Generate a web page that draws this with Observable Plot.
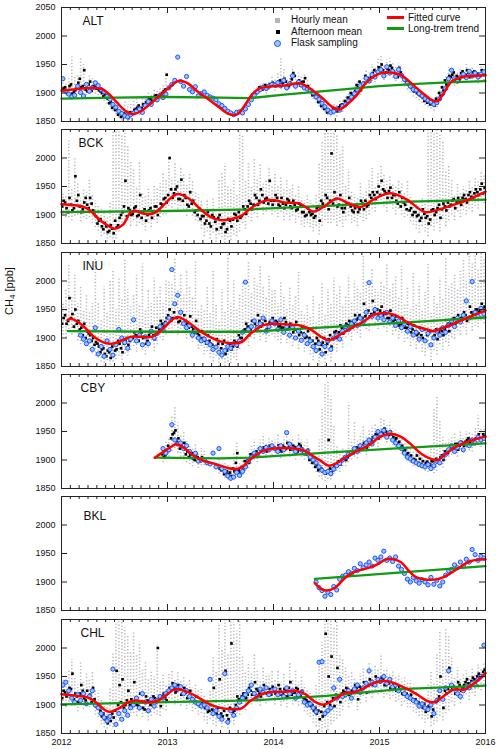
<!DOCTYPE html>
<html><head><meta charset="utf-8">
<script src="https://cdn.jsdelivr.net/npm/d3@7"></script>
<script src="https://cdn.jsdelivr.net/npm/@observablehq/plot@0.6"></script>
<style>
body{margin:0;background:#fff;font-family:"Liberation Sans",Arial,sans-serif;}
#wrap{position:relative;width:500px;height:749px;overflow:hidden;background:#fff}
.panel{position:absolute;left:0}
.panel svg{overflow:visible}
.lg{position:absolute;font-size:10px;line-height:12px;color:#111;white-space:nowrap}
#ylab{position:absolute;font-size:11px;white-space:nowrap;color:#111;transform:translate(-50%,-50%) rotate(-90deg)}
#ylab sub{font-size:8px;vertical-align:-2px}
</style></head>
<body><div id="wrap"></div>
<script>
const _ = null;
const stationNames = ["ALT","BCK","INU","CBY","BKL","CHL"];
const yearTicks = [2012,2013,2014,2015,2016];
const yLabelsFirst = [1850,1900,1950,2000,2050];
const yLabels = [1850,1900,1950,2000];
const yInnerTicks = [1900,1950,2000];
const legendLabels = ["Hourly mean","Afternoon mean","Flask sampling","Fitted curve","Long-trem trend"];

// ---------- ALT ----------
const altFit = [[2012.0,1904],[2012.1,1906],[2012.2,1908],[2012.3,1909],[2012.38,1907],[2012.45,1898],[2012.52,1884],[2012.6,1869],[2012.67,1863],[2012.75,1868],[2012.85,1883],[2012.95,1899],[2013.02,1910],[2013.1,1921],[2013.18,1918],[2013.28,1903],[2013.38,1890],[2013.48,1876],[2013.58,1863],[2013.65,1862],[2013.72,1876],[2013.8,1898],[2013.87,1908],[2013.95,1911],[2014.1,1913],[2014.25,1917],[2014.35,1907],[2014.45,1893],[2014.55,1876],[2014.62,1871],[2014.7,1881],[2014.78,1895],[2014.88,1919],[2015.0,1934],[2015.1,1936],[2015.2,1932],[2015.3,1917],[2015.4,1901],[2015.5,1887],[2015.55,1886],[2015.6,1898],[2015.68,1920],[2015.78,1928],[2015.9,1930],[2016.0,1931]];
const altTrend = [[2012,1890],[2012.5,1892],[2013,1893],[2013.5,1892],[2013.78,1891],[2014.1,1897],[2014.45,1903],[2015.0,1912],[2015.35,1916],[2015.65,1918.5],[2016,1921]];
const altFlask = [
1925,1903,1898,1893,1896,1912,1901,1895,1915,1903,1909,1918,
1913,1906,1902,1894,1889,1880,1875,1868,1864,1860,1858,1862,
1865,1868,1872,1866,1878,1885,1880,1890,1888,1896,1892,1898,
1909,1915,1922,1963,1920,1912,1929,1906,1902,1911,1895,1899,
1902,1896,1893,1891,1888,1881,1878,1873,1868,1865,1862,1866,
1867,1865,1872,1880,1888,1896,1902,1906,1910,1908,1912,1915,
1914,1918,1913,1922,1909,1916,1930,1912,1919,1914,1909,1907,
1905,1900,1893,1889,1882,1876,1870,1866,1868,1872,1870,1877,
1880,1886,1893,1899,1906,1913,1916,1926,1921,1932,1928,1937,
1941,1930,1946,1935,1938,1929,1941,1931,1924,1917,1912,1906,
1905,1899,1895,1890,1887,1884,1880,1883,1890,1899,1908,1925,
1940,1925,1921,1928,1933,1927,1938,1930,1935,1928,1933,1937];
const altAfternoon = [
1908,1902,1912,1899,1905,1918,1910,1940,1903,1920,1912,1908,
1905,1900,1897,1890,1885,1878,1872,1866,1860,1862,1856,1864,
1870,1874,1868,1880,1884,1889,1886,1895,1892,1898,1903,1932,
_,_,_,_,_,_,_,_,_,_,_,_,
_,_,_,_,_,_,_,_,_,_,_,_,
_,_,_,_,1892,1899,1905,1908,1912,1907,1915,1918,
1912,1920,1916,1925,1913,1918,1935,1915,1922,1919,1926,1912,
1906,1898,1892,1886,1880,1874,1869,1866,1870,1868,1878,1876,
1883,1888,1896,1903,1910,1905,1918,1925,1920,1935,1929,1945,
1950,1934,1942,1948,1938,1932,1944,1930,1922,1915,1910,1903,
1900,1896,1892,1889,1885,1882,1878,1885,1895,1904,1915,1930,
1932,1922,1926,1935,1929,1940,1928,1936,1932,1927,1940,1934];
const altAfternoonB = [
1905,1910,1898,1915,1902,1908,1925,1912,1906,1915,1904,1911,
1908,1903,1894,1892,1882,1874,1870,1862,1858,1864,1860,1866,
1866,1872,1878,1874,1880,1886,1890,1888,1896,1894,1900,1906,
_,_,_,_,_,_,_,_,_,_,_,_,
_,_,_,_,_,_,_,_,_,_,_,_,
_,_,_,_,_,1895,1902,1910,1906,1914,1910,1913,
1916,1914,1922,1918,1920,1912,1924,1930,1917,1913,1920,1910,
1903,1896,1895,1884,1877,1872,1866,1868,1873,1872,1875,1880,
1886,1892,1900,1898,1914,1920,1912,1930,1926,1928,1940,1938,
1944,1940,1936,1940,1944,1935,1928,1936,1926,1919,1912,1907,
1904,1898,1895,1886,1883,1880,1884,1890,1900,1910,1922,1926,
1928,1936,1930,1924,1938,1932,1935,1930,1938,1934,1930,1938];
const altHourlyHi = [
1918,1915,1925,1963,1930,1930,1962,1950,1915,1930,1925,1918,
1915,1910,1905,1900,1895,1888,1880,1875,1872,1885,1880,1880,
1885,1890,1880,1892,1895,1900,1896,1905,1905,1910,1915,1935,
_,_,_,_,_,_,_,_,_,_,_,_,
_,_,_,_,_,_,_,_,_,_,_,_,
_,_,_,_,1900,1906,1912,1915,1920,1915,1922,1928,
1925,1935,1960,1945,1925,1930,1945,1928,1935,1930,1935,1925,
1915,1908,1900,1895,1890,1885,1880,1878,1882,1880,1888,1886,
1893,1900,1905,1912,1920,1918,1930,1940,1935,1950,1945,1960,
1965,1950,1958,1960,1952,1945,1952,1942,1935,1925,1920,1912,
1910,1905,1900,1897,1893,1890,1888,1895,1905,1915,1928,1945,
1942,1932,1936,1945,1940,1950,1938,1945,1942,1938,1948,1945];
const altHourlyLo = [
1898,1895,1900,1892,1896,1905,1900,1902,1895,1905,1900,1898,
1895,1890,1885,1880,1875,1868,1862,1856,1851,1853,1850,1855,
1860,1864,1860,1870,1875,1880,1876,1885,1883,1888,1893,1900,
_,_,_,_,_,_,_,_,_,_,_,_,
_,_,_,_,_,_,_,_,_,_,_,_,
_,_,_,_,1885,1890,1896,1900,1903,1898,1905,1908,
1903,1908,1906,1910,1903,1906,1910,1905,1910,1908,1912,1902,
1896,1888,1882,1876,1870,1865,1860,1858,1860,1858,1866,1866,
1873,1878,1886,1893,1900,1895,1906,1913,1910,1920,1918,1928,
1933,1922,1928,1930,1926,1920,1928,1918,1910,1905,1900,1893,
1890,1886,1882,1878,1875,1872,1868,1874,1884,1893,1903,1915,
1920,1912,1915,1922,1918,1925,1918,1924,1920,1916,1926,1922];

// ---------- BCK ----------
const bckFit = [[2012.0,1919],[2012.2,1915],[2012.27,1908],[2012.35,1893],[2012.45,1880],[2012.5,1876],[2012.58,1883],[2012.65,1904],[2012.7,1907],[2012.78,1902],[2012.87,1903],[2012.95,1915],[2013.05,1933],[2013.1,1937],[2013.2,1929],[2013.3,1912],[2013.4,1897],[2013.5,1891],[2013.6,1893],[2013.7,1899],[2013.78,1911],[2013.9,1924],[2014.0,1926],[2014.1,1922],[2014.25,1920],[2014.38,1906],[2014.5,1918],[2014.6,1929],[2014.7,1921],[2014.82,1914],[2014.95,1928],[2015.1,1938],[2015.25,1928],[2015.43,1905],[2015.55,1909],[2015.7,1918],[2015.85,1928],[2016.0,1941]];
const bckTrend = [[2012,1905],[2013,1907],[2013.8,1910],[2014.6,1917],[2015.2,1923],[2016,1927]];
const bckAfternoon = [
1925,1912,1930,1908,1968,1935,1905,1922,1918,1930,1908,1898,
1890,1880,1886,1870,1882,1868,1878,1895,1905,1960,1912,1900,
1912,1898,1935,1905,1890,1908,1895,1915,1900,1920,1928,1922,
2000,1930,1945,1928,1962,1935,1918,1940,1925,1908,1912,1898,
1885,1905,1880,1896,1875,1900,1884,1870,1893,1880,1902,1890,
1895,1915,1902,1925,1910,1935,1918,1945,1922,1930,1960,1918,
1935,1918,1930,1912,1928,1915,1925,1908,1920,1905,1898,1912,
1900,1895,1912,1890,1920,1935,1910,2008,1940,1915,1935,1905,
1918,1930,1908,1912,1905,1925,1910,1915,1935,1940,1928,1950,
1960,1942,1930,1948,1935,1925,1940,1930,1918,1925,1912,1905,
1898,1890,1910,1895,1885,1908,1900,1912,1895,1920,1908,1915,
1925,1912,1930,1918,1935,1922,1940,1928,1945,1935,1955,1948];
const bckAfternoonB = [
1915,1922,1905,1918,1912,1925,1915,1910,1930,1912,1920,1905,
1885,1893,1875,1880,1872,1876,1890,1882,1900,1915,1898,1908,
1902,1915,1900,1895,1910,1900,1912,1905,1915,1910,1918,1930,
1935,1945,1938,1950,1928,1925,1930,1915,1920,1905,1900,1893,
1898,1890,1885,1900,1888,1895,1878,1885,1875,1890,1892,1900,
1905,1898,1910,1915,1920,1918,1930,1925,1935,1928,1920,1925,
1925,1930,1915,1920,1918,1925,1912,1918,1910,1915,1905,1900,
1905,1902,1898,1915,1925,1915,1930,1925,1920,1928,1918,1912,
1912,1920,1915,1905,1918,1910,1920,1925,1918,1930,1935,1940,
1935,1945,1938,1942,1930,1935,1920,1915,1922,1910,1908,1900,
1905,1900,1895,1902,1898,1892,1910,1905,1918,1910,1915,1922,
1918,1928,1922,1925,1930,1928,1935,1932,1938,1940,1945,1938];
const bckHourlyHi = [
1940,1935,2030,1945,2000,1955,1930,1945,1940,1965,1935,1925,
1915,1910,1905,1895,1920,2045,2050,2050,2040,2050,2020,1995,
1980,1950,1995,1940,1935,1945,1930,1950,1945,1955,1975,1960,
2000,1965,1990,1960,1985,1970,1955,1975,1960,1940,1935,1925,
1910,1925,1905,1930,1900,1960,1975,1990,1950,1945,1960,1935,
2045,2040,1960,1990,1950,2000,1965,1990,1955,1960,1985,1950,
1975,1950,1965,1945,1960,1945,1955,1935,1950,1930,1925,1935,
1925,1918,1935,1990,2030,2050,2050,2050,2045,2040,2010,2020,
1950,1980,1940,1935,1930,1955,1935,1945,1960,1985,1950,1975,
1985,1970,1960,1970,1955,1950,1960,1955,1940,1960,1935,1925,
1925,1915,1930,1920,2050,2050,2045,2050,2040,2030,1975,1985,
1960,1935,1955,1940,1950,1945,1960,1950,1965,1958,1975,1970];
const bckHourlyLo = [
1900,1895,1895,1890,1898,1900,1888,1895,1892,1895,1885,1878,
1872,1862,1866,1852,1860,1852,1858,1870,1880,1885,1890,1880,
1890,1880,1885,1882,1872,1885,1878,1890,1885,1895,1900,1900,
1915,1912,1918,1910,1915,1910,1898,1905,1898,1890,1888,1875,
1862,1870,1858,1868,1852,1865,1860,1850,1860,1855,1865,1862,
1870,1885,1875,1895,1888,1902,1895,1910,1900,1905,1915,1900,
1905,1895,1905,1890,1900,1890,1898,1885,1895,1882,1878,1885,
1878,1870,1880,1865,1880,1890,1885,1885,1890,1880,1888,1878,
1890,1898,1885,1888,1880,1895,1888,1892,1900,1910,1905,1918,
1925,1915,1905,1918,1910,1900,1910,1900,1895,1898,1888,1882,
1875,1868,1880,1870,1862,1880,1872,1885,1870,1892,1880,1890,
1900,1890,1905,1895,1908,1900,1910,1905,1915,1910,1925,1920];

// ---------- INU ----------
const inuFit = [[2012.06,1932],[2012.1,1933.5],[2012.2,1922],[2012.3,1903],[2012.4,1892],[2012.47,1890],[2012.55,1894],[2012.65,1902],[2012.75,1902],[2012.85,1902],[2012.95,1915],[2013.05,1933],[2013.1,1937],[2013.2,1927],[2013.3,1913],[2013.4,1902],[2013.5,1894],[2013.6,1891],[2013.7,1893],[2013.78,1907],[2013.9,1922],[2014.0,1925],[2014.1,1924],[2014.25,1922],[2014.35,1915],[2014.45,1902],[2014.52,1896],[2014.62,1905],[2014.72,1916],[2014.85,1929],[2014.95,1941],[2015.05,1944],[2015.15,1940],[2015.25,1929],[2015.35,1920],[2015.45,1915],[2015.5,1912],[2015.6,1918],[2015.7,1925],[2015.8,1933],[2015.9,1941],[2016.0,1948]];
const inuTrend = [[2012.06,1912],[2013,1911],[2013.78,1911],[2014.6,1920],[2015.3,1928],[2016,1936]];
const inuFlask = [
_,_,_,_,_,_,1905,1898,1890,1895,1880,1918,
1872,1885,1868,1895,1880,1870,1888,1915,1900,1892,1882,1898,
1932,1895,1905,1888,1902,1890,1912,1900,1908,1920,1915,1925,
1935,2020,1960,1975,1945,1925,1918,1922,1905,1912,1900,1895,
1898,1892,1888,1880,1884,1875,1870,1878,1885,1882,1890,1888,
1895,1910,1998,1915,1920,1930,1918,1925,1935,1912,1920,1930,
1925,1915,1932,1910,1920,1905,1918,1900,1912,1896,1905,1890,
1895,1885,1878,1890,1872,1885,1895,1880,1900,1905,1898,1912,
1920,1915,1925,1930,1922,1935,1928,1945,1997,1938,1950,1935,
1940,1932,1945,1928,1935,1922,1930,1918,1925,1912,1920,1905,
1910,1898,1915,1895,1908,1888,1900,1912,1905,1918,1910,1922,
1930,1920,1935,1928,1940,1965,1935,1999,1945,1938,1952,1942];
const inuAfternoon = [
1935,1925,1970,1942,1950,1930,1918,1925,1912,1905,1900,1893,
1885,1880,1872,1878,1865,1870,1880,1890,1875,1895,1888,1900,
1910,1895,1915,1900,1890,1905,1920,1898,1910,1930,1920,1935,
1950,1935,1960,1928,1945,1940,1925,1938,1915,1930,1905,1912,
1895,1905,1890,1882,1898,1876,1890,1872,1885,1880,1895,1885,
1900,1912,1925,1905,1930,1925,1940,1920,1935,1915,1928,1935,
1930,1920,1918,1935,1915,1925,1910,1928,1905,1920,1900,1912,
1895,1885,1900,1880,1892,1875,1898,1885,1910,1900,1922,1908,
1925,1930,1918,1940,1935,1925,1960,1945,1938,1965,1950,1940,
1955,1945,1935,1948,1930,1938,1922,1935,1918,1925,1910,1922,
1905,1918,1900,1895,1910,1888,1905,1898,1915,1905,1920,1912,
1930,1925,1940,1935,1945,1930,1955,1940,1950,1945,1960,1955];
const inuAfternoonB = [
1925,1940,1930,1935,1920,1925,1915,1905,1900,1908,1895,1888,
1890,1875,1882,1868,1875,1885,1878,1895,1882,1890,1900,1895,
1900,1905,1895,1910,1902,1895,1910,1905,1918,1915,1925,1928,
1940,1930,1945,1935,1930,1925,1930,1918,1920,1910,1908,1900,
1900,1890,1895,1888,1885,1890,1882,1895,1878,1890,1885,1892,
1905,1900,1915,1920,1915,1930,1920,1930,1925,1930,1920,1928,
1925,1928,1922,1918,1928,1920,1918,1915,1912,1910,1908,1902,
1900,1895,1890,1895,1888,1900,1890,1905,1898,1912,1910,1918,
1918,1922,1928,1925,1932,1940,1935,1938,1948,1942,1945,1950,
1948,1940,1942,1935,1940,1932,1928,1925,1928,1918,1922,1915,
1912,1908,1905,1915,1905,1912,1902,1915,1910,1912,1915,1925,
1925,1935,1928,1930,1938,1940,1935,1945,1942,1950,1948,1952];
const inuHourlyHi = [
1960,1985,2030,1975,2010,1960,1990,1950,1975,1945,1960,2040,
1960,1930,1990,1945,2000,2020,1950,2005,1970,2040,1985,1955,
1975,2010,1960,2030,1950,1985,1960,2005,1975,1990,1960,2000,
2000,1995,2040,1985,2010,1975,2020,1990,1970,2035,1950,1960,
1950,1990,1945,2020,1960,1930,1985,1945,2045,1960,2000,1950,
1975,2000,1990,2035,1980,2005,1995,2025,1990,1970,2010,1985,
1985,1960,2000,1975,1950,1990,1960,1975,2015,1950,1940,1960,
1940,1975,1930,1960,1995,1940,1985,1960,2005,1975,1990,1955,
1975,2010,1965,2000,1990,1980,2045,2000,1990,2020,1985,1980,
2000,1990,2030,1985,1995,2010,1970,2025,1960,1990,1950,2015,
1960,1995,1950,1980,2030,1945,1975,1960,2005,1970,2040,1990,
1995,2010,1985,2020,2040,2000,2050,2030,2045,2020,2050,2040];
const inuHourlyLo = [
1905,1900,1915,1905,1910,1895,1888,1892,1885,1878,1872,1868,
1865,1858,1850,1860,1852,1858,1862,1868,1855,1872,1868,1878,
1885,1875,1890,1878,1870,1882,1895,1876,1888,1900,1895,1905,
1915,1910,1920,1905,1915,1910,1898,1905,1892,1898,1880,1885,
1870,1876,1865,1858,1868,1850,1862,1850,1858,1855,1865,1860,
1880,1890,1898,1885,1900,1898,1908,1895,1905,1892,1902,1905,
1900,1895,1890,1905,1890,1898,1885,1900,1880,1892,1875,1885,
1870,1860,1872,1852,1865,1850,1868,1858,1882,1875,1895,1882,
1900,1905,1895,1912,1908,1900,1925,1915,1912,1930,1920,1915,
1925,1918,1910,1920,1905,1912,1898,1908,1892,1898,1885,1895,
1880,1890,1875,1868,1882,1860,1878,1870,1888,1878,1892,1885,
1900,1898,1912,1905,1918,1905,1925,1912,1920,1918,1930,1925];

// ---------- CBY ----------
const cbyFit = [[2012.88,1904],[2012.95,1913],[2013.05,1925],[2013.08,1927.5],[2013.15,1922],[2013.25,1907],[2013.35,1898],[2013.45,1893],[2013.55,1887],[2013.62,1884],[2013.7,1887],[2013.78,1901],[2013.9,1916],[2014.0,1920],[2014.1,1921],[2014.2,1920],[2014.3,1916],[2014.38,1906],[2014.45,1898],[2014.52,1890],[2014.6,1895],[2014.7,1907],[2014.8,1917],[2014.9,1926],[2015.0,1940],[2015.1,1946],[2015.2,1941],[2015.3,1927],[2015.4,1910],[2015.5,1901],[2015.55,1900],[2015.62,1910],[2015.7,1921],[2015.8,1930],[2015.9,1936],[2016.0,1941]];
const cbyTrend = [[2012.88,1904],[2013.5,1903],[2013.78,1904],[2014.5,1913],[2015.2,1921],[2016,1929]];
const cbyFlask = [
_,_,_,_,_,_,_,_,_,_,_,_,
_,_,_,_,_,_,_,_,_,_,_,_,
_,_,_,_,_,_,_,_,_,_,1920,1912,
1918,1962,1935,1928,1930,1920,1925,1915,1905,1912,1898,1900,
1900,1895,1893,1912,1888,1920,1885,1880,1872,1868,1870,1878,
1873,1880,1888,1898,1905,1912,1910,1920,1915,1922,1918,1925,
1920,1915,1925,1918,1948,1928,1920,1915,1922,1918,1912,1915,
1905,1900,1895,1888,1882,1878,1880,1876,1884,1890,1894,1900,
1905,1910,1912,1920,1915,1925,1922,1930,1935,1928,1940,1950,
1945,1952,1940,1948,1935,1930,1925,1920,1912,1905,1902,1898,
1895,1892,1890,1888,1892,1885,1890,1898,1895,1905,1910,1918,
1925,1915,1922,1930,1918,1928,1925,1935,1930,1940,1935,1938];
const cbyAfternoon = [
_,_,_,_,_,_,_,_,_,_,_,_,
_,_,_,_,_,_,_,_,_,_,_,_,
_,_,_,_,_,_,_,_,_,_,1905,1912,
1918,1945,1952,1938,1925,1930,1915,1908,1902,1910,1898,1905,
1900,_,_,_,_,1885,_,1878,1875,1872,1880,1912,
1878,1883,1890,1895,1905,1912,1908,1918,1922,1915,1925,1920,
1918,1926,1915,1922,1930,1918,1925,1912,1928,1920,1915,1918,
1905,1898,1892,1885,1880,1876,1935,1878,1890,1895,1892,1902,
1900,1908,1912,1918,1915,1925,1930,1922,1935,1940,1945,1938,
1948,1955,1945,1950,1940,1938,1932,1925,1918,1912,1908,1902,
1908,1902,1898,1895,1893,1898,1890,1896,1905,1900,1912,1918,
1922,1928,1918,1932,1925,1935,1930,1928,1938,1945,1935,1942];
const cbyAfternoonB = [
_,_,_,_,_,_,_,_,_,_,_,_,
_,_,_,_,_,_,_,_,_,_,_,_,
_,_,_,_,_,_,_,_,_,_,1910,1908,
1925,1938,1948,1932,1920,1922,1910,1905,1912,1900,1905,1898,
_,_,_,_,_,_,1882,1875,1880,1878,1885,1895,
1882,1888,1898,1900,1910,1908,1915,1920,1918,1922,1918,1925,
1922,1920,1918,1925,1920,1922,1918,1922,1915,1925,1912,1910,
1900,1895,1888,1882,1885,1880,1878,1885,1882,1892,1898,1900,
1905,1905,1915,1912,1922,1920,1925,1930,1928,1935,1940,1945,
1942,1948,1950,1944,1945,1935,1928,1922,1915,1910,1905,1898,
1900,1895,1893,1890,1897,1892,1898,1902,1898,1908,1915,1912,
1925,1920,1928,1925,1930,1932,1938,1935,1930,1940,1938,1945];
const cbyHourlyHi = [
_,_,_,_,_,_,_,_,_,_,_,_,
_,_,_,_,_,_,_,_,_,_,_,_,
_,_,_,_,_,_,_,_,_,_,1920,1935,
1940,1975,1992,1965,1945,1950,1935,1925,1920,1930,1915,1920,
1915,_,_,_,_,1900,_,1895,1892,1888,1915,1930,
1895,1900,1905,1915,1925,1935,1925,1935,1945,1930,1940,1935,
1935,1945,1930,1940,1950,1935,1940,1928,1945,1935,1930,1935,
1920,1912,1905,1935,1990,2035,2038,2010,1960,1925,1910,1920,
1915,2000,1935,1968,1935,1945,1960,1940,1955,1960,1965,1958,
1975,1970,1960,1965,1955,1952,1948,1940,1932,1925,1920,1915,
1920,1912,1910,1905,1905,1925,1990,2012,1970,1940,1930,1935,
1940,1945,1935,1950,1940,1950,1948,1945,1955,1977,1955,1958];
const cbyHourlyLo = [
_,_,_,_,_,_,_,_,_,_,_,_,
_,_,_,_,_,_,_,_,_,_,_,_,
_,_,_,_,_,_,_,_,_,_,1895,1900,
1905,1915,1920,1912,1905,1905,1895,1892,1888,1895,1885,1890,
1890,_,_,_,_,1875,_,1868,1865,1862,1868,1875,
1868,1873,1880,1885,1893,1900,1895,1905,1910,1902,1912,1908,
1905,1912,1902,1910,1915,1905,1910,1900,1912,1905,1900,1905,
1892,1885,1878,1870,1865,1862,1866,1865,1875,1880,1878,1888,
1888,1895,1900,1905,1902,1910,1915,1908,1920,1925,1930,1922,
1935,1938,1930,1935,1925,1922,1918,1910,1903,1898,1894,1888,
1893,1888,1884,1880,1878,1882,1876,1880,1890,1886,1898,1905,
1908,1914,1905,1918,1912,1920,1916,1914,1924,1930,1922,1928];

// ---------- BKL ----------
const bklFit = [[2014.39,1898],[2014.45,1888],[2014.5,1885],[2014.58,1890],[2014.68,1908],[2014.78,1919],[2014.88,1924],[2014.98,1931],[2015.05,1939],[2015.12,1940.5],[2015.2,1935],[2015.28,1919],[2015.35,1908],[2015.45,1904],[2015.55,1905],[2015.65,1913],[2015.75,1925],[2015.85,1936],[2015.95,1939.5],[2016.0,1940]];
const bklTrend = [[2014.39,1905.6],[2016,1927.7]];
const bklFlask = [
_,_,_,_,_,_,_,_,_,_,_,_,
_,_,_,_,_,_,_,_,_,_,_,_,
_,_,_,_,_,_,_,_,_,_,_,_,
_,_,_,_,_,_,_,_,_,_,_,_,
_,_,_,_,_,_,_,_,_,_,_,_,
_,_,_,_,_,_,_,_,_,_,_,_,
_,_,_,_,_,_,_,_,_,_,_,_,
_,_,1900,1890,1885,1875,1882,1878,1892,1886,1905,1910,
1912,1918,1915,1924,1920,1932,1925,1930,1935,1928,1942,1938,
1944,1954,1938,1942,1936,1944,1928,1922,1915,1905,1900,1908,
1902,1898,1904,1900,1895,1908,1896,1903,1893,1900,1912,1920,
1922,1930,1925,1935,1928,1940,1935,1957,1948,1938,1945,1942];

// ---------- CHL ----------
const chlFit = [[2012.0,1919],[2012.15,1916],[2012.25,1913],[2012.33,1904],[2012.4,1892.5],[2012.45,1888],[2012.55,1895],[2012.62,1904],[2012.7,1908],[2012.8,1905],[2012.9,1907],[2013.0,1919],[2013.05,1926],[2013.1,1927.5],[2013.2,1922],[2013.3,1912],[2013.4,1901],[2013.5,1895],[2013.62,1892.5],[2013.7,1894],[2013.78,1907],[2013.9,1920],[2014.0,1923],[2014.1,1923],[2014.2,1925],[2014.3,1919],[2014.38,1907],[2014.45,1901],[2014.5,1902],[2014.6,1913],[2014.68,1921.7],[2014.75,1922],[2014.85,1929],[2014.95,1939],[2015.05,1942],[2015.15,1937.6],[2015.25,1929],[2015.35,1919],[2015.45,1907],[2015.52,1905],[2015.6,1915],[2015.7,1927],[2015.8,1927],[2015.9,1939],[2016.0,1956]];
const chlTrend = [[2012,1901],[2013,1905],[2013.8,1908],[2014.5,1916],[2015.2,1928],[2016,1934]];
const chlFlask = [
1935,1940,1925,1912,1905,1918,1908,1920,1902,1915,1925,1900,
1895,1885,1878,1872,1880,1963,1866,1885,1875,1890,1882,1895,
1900,1912,1895,1920,1905,1890,1910,1898,1908,1915,1912,1920,
1925,1930,1935,1928,1932,1920,1925,1915,1910,1905,1902,1898,
1900,1895,1945,1885,1890,1880,1875,1955,1870,1890,1882,1895,
1905,1912,1918,1925,1935,1920,1915,1928,1922,1930,1918,1925,
1928,1918,1922,1915,1930,1920,1925,1912,1918,1922,1905,1900,
1902,1895,1888,1975,1976,1885,1890,1895,1930,1912,1945,1915,
1918,1925,1912,1928,1935,1922,1930,1938,1960,1940,1935,1945,
1942,1950,1938,1945,1932,1935,1925,1930,1920,1915,1912,1908,
1905,1898,1902,1895,1892,1900,1885,1908,1925,1910,1930,1960,
1935,1928,1920,1915,1925,1932,1930,1938,1935,1945,1950,2005];
const chlAfternoon = [
1925,1915,1930,1955,1920,1905,1935,1912,1925,1918,1930,1898,
1895,1880,1875,1868,1872,1878,1960,1935,1945,1900,1925,1910,
1940,1900,1920,1895,1915,1890,1905,1912,2000,1898,1920,1908,
1930,1938,1922,1935,1918,1930,1912,1925,1908,1915,1900,1905,
1895,1888,1900,1930,1885,1945,1880,1960,1875,2008,1890,1915,
1905,1920,1912,1930,1918,1940,1925,1915,1935,1920,1928,1932,
1920,1935,1918,1928,1915,1940,1922,1930,1918,1925,1910,1905,
1898,1890,1885,1875,1880,2025,1950,1985,1898,1965,1905,1925,
1930,1918,1925,1935,1910,1928,1940,1922,1945,1935,1950,1942,
1948,1935,1942,1930,1938,1925,1932,1920,1928,1915,1918,1910,
1905,1900,1895,1888,1898,1880,1885,1910,1950,1895,1920,1965,
1930,1920,1940,1925,1935,1945,1930,1948,1938,1955,1950,1962];
const chlAfternoonB = [
1912,1922,1918,1928,1910,1915,1920,1925,1908,1915,1905,1910,
1900,1890,1885,1878,1880,1885,1890,1900,1905,1895,1908,1900,
1905,1912,1898,1905,1892,1908,1900,1915,1905,1910,1915,1912,
1922,1928,1930,1925,1928,1920,1922,1915,1912,1905,1902,1898,
1900,1895,1890,1892,1888,1895,1885,1890,1882,1895,1888,1900,
1910,1915,1920,1918,1925,1922,1928,1920,1925,1930,1922,1918,
1925,1922,1928,1920,1925,1930,1918,1922,1928,1915,1912,1908,
1905,1900,1895,1890,1888,1898,1905,1900,1912,1918,1915,1920,
1922,1928,1920,1925,1930,1932,1928,1938,1935,1942,1938,1945,
1940,1945,1935,1938,1932,1930,1925,1928,1918,1920,1912,1908,
1910,1905,1900,1902,1895,1898,1892,1905,1915,1910,1925,1928,
1925,1932,1928,1935,1930,1940,1938,1942,1945,1950,1948,1958];
const chlHourlyHi = [
1945,1940,1960,1980,1950,1935,1975,1940,1955,1945,1960,1925,
1925,1910,1900,1895,1930,1990,2045,2050,2050,2035,2020,1995,
2030,1990,2010,1965,1975,1945,1960,1950,2005,1940,1955,1935,
1955,1960,1945,1958,1942,1950,1935,1945,1930,1935,1925,1928,
1915,1912,1925,1985,1960,2040,2000,2050,1990,2050,2045,2030,
2050,1985,1960,1975,1955,1990,1960,1945,1965,1950,1955,1960,
1945,1960,1940,1955,1935,1975,1945,1960,1940,1950,1935,1925,
1920,1915,1935,1970,2010,2050,2050,2050,2035,2050,1990,1980,
1965,1950,1960,1945,1940,1955,1965,1950,1975,1960,1970,1965,
1990,1960,1965,1955,1960,1950,1955,1945,1950,1940,1942,1935,
1925,1915,1910,1905,1935,1960,1940,1990,2030,1980,2035,2020,
1985,1950,1965,1945,1955,1960,1950,1965,1955,1970,1962,1975];
const chlHourlyLo = [
1900,1895,1905,1898,1898,1888,1902,1892,1900,1895,1902,1882,
1878,1865,1860,1858,1862,1860,1872,1870,1880,1878,1885,1885,
1885,1880,1888,1878,1885,1872,1880,1885,1882,1880,1892,1890,
1905,1910,1900,1908,1898,1905,1892,1900,1888,1892,1882,1885,
1872,1866,1875,1865,1862,1870,1860,1868,1858,1870,1865,1878,
1882,1895,1890,1905,1900,1910,1905,1898,1910,1902,1908,1910,
1900,1910,1898,1905,1895,1912,1900,1905,1898,1900,1888,1882,
1878,1868,1862,1855,1852,1860,1855,1865,1870,1875,1880,1890,
1905,1895,1902,1908,1890,1902,1915,1905,1918,1912,1925,1918,
1920,1912,1918,1910,1915,1905,1908,1898,1905,1895,1895,1888,
1885,1880,1875,1868,1875,1862,1865,1870,1880,1872,1885,1890,
1905,1898,1912,1902,1910,1918,1908,1920,1915,1928,1925,1935];

// ---------- assemble ----------
const stations = [
  {name:stationNames[0], fit:altFit, trend:altTrend, hi:altHourlyHi, lo:altHourlyLo, daily:[altAfternoon, altAfternoonB], flask:altFlask},
  {name:stationNames[1], fit:bckFit, trend:bckTrend, hi:bckHourlyHi, lo:bckHourlyLo, daily:[bckAfternoon, bckAfternoonB], flask:null},
  {name:stationNames[2], fit:inuFit, trend:inuTrend, hi:inuHourlyHi, lo:inuHourlyLo, daily:[inuAfternoon, inuAfternoonB], flask:inuFlask},
  {name:stationNames[3], fit:cbyFit, trend:cbyTrend, hi:cbyHourlyHi, lo:cbyHourlyLo, daily:[cbyAfternoon, cbyAfternoonB], flask:cbyFlask},
  {name:stationNames[4], fit:bklFit, trend:bklTrend, hi:null, lo:null, daily:[], flask:bklFlask},
  {name:stationNames[5], fit:chlFit, trend:chlTrend, hi:chlHourlyHi, lo:chlHourlyLo, daily:[chlAfternoon, chlAfternoonB], flask:chlFlask}
];

// layout
const W = 500, ML = 61, MR = 15, FH = 114, FW = W - ML - MR, MT = 8;
const panelTops = [7, 129.3, 251.6, 373.9, 496.2, 618.5];
const labelDx = [21, 17, 21, 19, 22, 19];
const labelDy = [9, 9, 9, 9, 15, 9];
const dailyOffsets = [0.72, 0.22];
const monthTicks = d3.range(49).map(i => 2012 + i / 12);
const binTime = (i, off) => 2012 + (i + off) / 36;
const font = '"Liberation Sans", Arial, sans-serif';

const wrap = document.getElementById("wrap");

stations.forEach((st, idx) => {
  const last = idx === stations.length - 1;
  const MB = last ? 24 : 8;
  const gray = st.hi ? st.hi.map((h, i) => ({t: binTime(i, 0.5), lo: st.lo[i], hi: h})).filter(d => d.hi != null && d.lo != null) : [];
  const daily = st.daily.flatMap((arr, k) => arr.map((v, i) => ({t: binTime(i, dailyOffsets[k]), v}))).filter(d => d.v != null);
  const flask = st.flask ? st.flask.map((v, i) => ({t: binTime(i, 0.47), v})).filter(d => d.v != null) : [];
  const plot = Plot.plot({
    width: W, height: FH + MT + MB,
    marginLeft: ML, marginRight: MR, marginTop: MT, marginBottom: MB,
    style: {fontFamily: font, fontSize: "9px", color: "#111", background: "transparent", overflow: "visible"},
    x: {domain: [2012, 2016], axis: last ? "bottom" : null, ticks: yearTicks, tickFormat: "d", tickSize: 0, tickPadding: 5, label: null},
    y: {domain: [1850, 2050], ticks: idx === 0 ? yLabelsFirst : yLabels, tickFormat: "d", tickSize: 0, tickPadding: 6, label: null},
    marks: [
      Plot.ruleX(gray, {x: "t", y1: "lo", y2: "hi", stroke: "#bbbbbb", strokeWidth: 1.6, strokeDasharray: "1.3,2", clip: true}),
      Plot.dot(daily, {x: "t", y: "v", symbol: "square", r: 1.5, fill: "#000", stroke: "none", clip: true}),
      Plot.dot(flask, {x: "t", y: "v", r: 2.1, fill: "#94c9ff", stroke: "#1f4fff", strokeWidth: 1, clip: true}),
      Plot.line(st.trend, {x: d => d[0], y: d => d[1], stroke: "#139a13", strokeWidth: 2.3}),
      Plot.line(st.fit, {x: d => d[0], y: d => d[1], stroke: "#ff0000", strokeWidth: 2.5, curve: "catmull-rom"}),
      Plot.tickX(monthTicks, {x: d => d, insetTop: FH - 3, stroke: "#222"}),
      Plot.tickX(monthTicks, {x: d => d, insetBottom: FH - 3, stroke: "#222"}),
      Plot.tickX(yearTicks, {x: d => d, insetTop: FH - 6, stroke: "#222"}),
      Plot.tickX(yearTicks, {x: d => d, insetBottom: FH - 6, stroke: "#222"}),
      Plot.tickY(yInnerTicks, {y: d => d, insetRight: FW - 6, stroke: "#222"}),
      Plot.tickY(yInnerTicks, {y: d => d, insetLeft: FW - 6, stroke: "#222"}),
      Plot.frame({stroke: "#222", strokeWidth: 1}),
      Plot.text([st.name], {text: d => d, frameAnchor: "top-left", textAnchor: "start", lineAnchor: "top", dx: labelDx[idx], dy: labelDy[idx], fontSize: 12, fill: "#111"})
    ]
  });
  const div = document.createElement("div");
  div.className = "panel";
  div.style.top = (panelTops[idx] - MT) + "px";
  div.appendChild(plot);
  wrap.appendChild(div);
});

// legend (in ALT panel)
function lgText(txt, left, cy) {
  const e = document.createElement("div");
  e.className = "lg"; e.textContent = txt;
  e.style.left = left + "px"; e.style.top = (cy - 6) + "px";
  wrap.appendChild(e);
}
function lgBox(css) {
  const e = document.createElement("div");
  e.style.position = "absolute";
  Object.assign(e.style, css);
  wrap.appendChild(e);
}
lgBox({left: "275px", top: "17.5px", width: "5px", height: "5px", background: "#b6b6b6"});
lgText(legendLabels[0], 291, 20);
lgBox({left: "275.5px", top: "30px", width: "4px", height: "4px", background: "#000"});
lgText(legendLabels[1], 291, 32);
lgBox({left: "274px", top: "39.5px", width: "5px", height: "5px", background: "#94c9ff", border: "1px solid #1f4fff", borderRadius: "50%"});
lgText(legendLabels[2], 291, 43);
lgBox({left: "387px", top: "16px", width: "17px", height: "2.5px", background: "#ff0000"});
lgText(legendLabels[3], 408, 17.5);
lgBox({left: "387px", top: "27px", width: "17px", height: "2.5px", background: "#139a13"});
lgText(legendLabels[4], 408, 28.5);

// y-axis title
const yl = document.createElement("div");
yl.id = "ylab";
yl.innerHTML = "CH<sub>4</sub> [ppb]";
yl.style.left = "10px"; yl.style.top = "291px";
wrap.appendChild(yl);
</script>
</body></html>
